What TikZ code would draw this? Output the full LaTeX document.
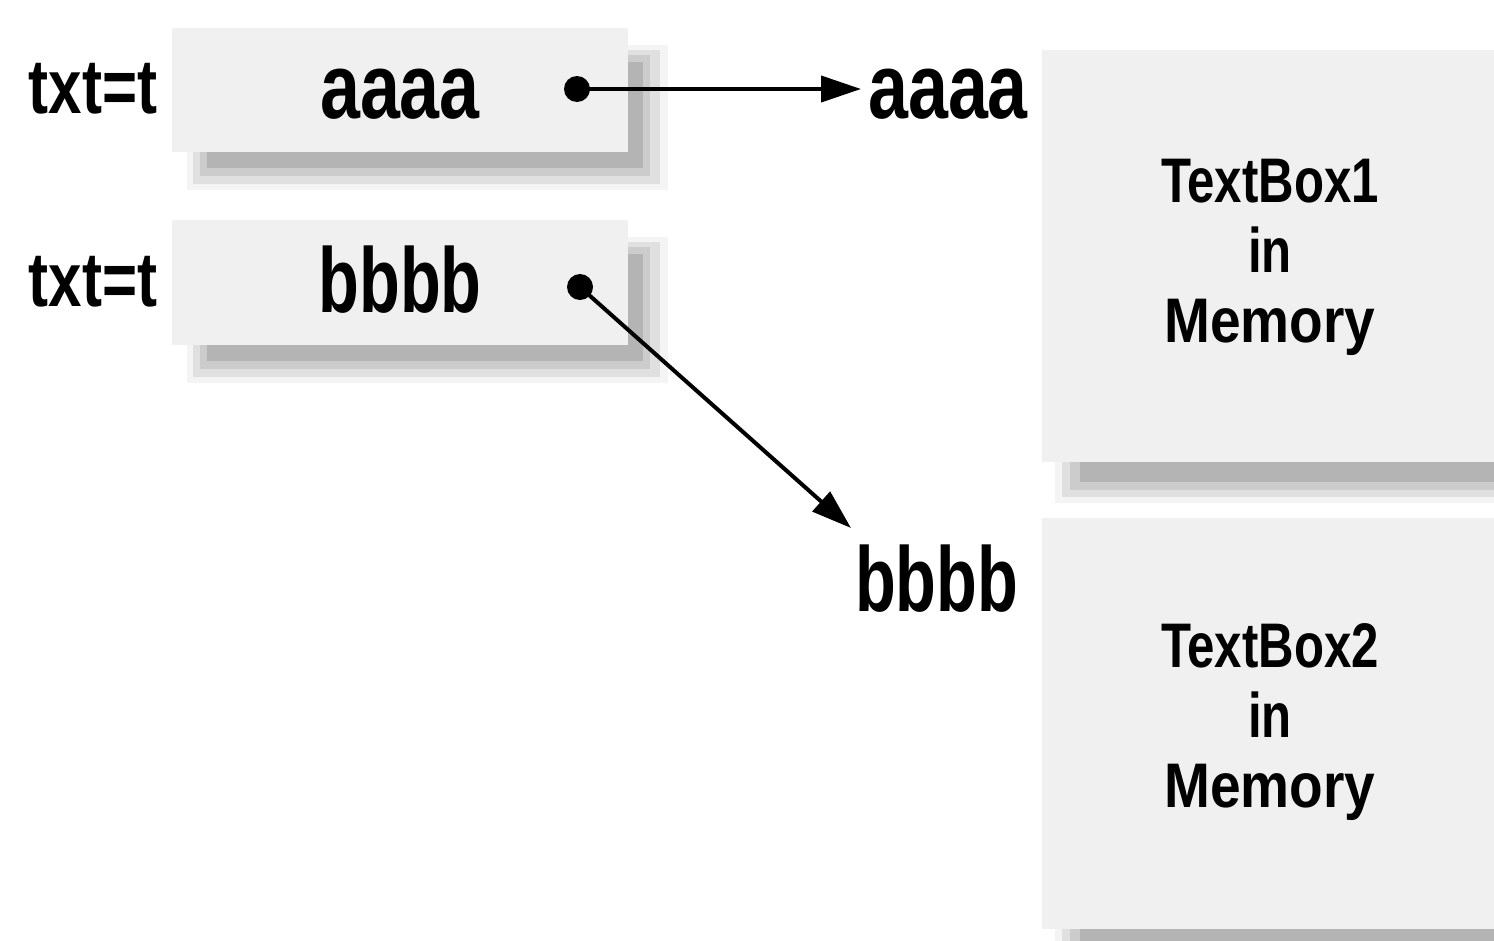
\documentclass[tikz,border=0pt]{standalone}
\usepackage{fontspec}
\usepackage{graphicx}
\setmainfont{Liberation Sans}[FakeStretch=0.78]
\usetikzlibrary{arrows.meta}
\definecolor{boxfill}{HTML}{F0F0F0}
\definecolor{shA}{HTML}{F4F4F4}
\definecolor{shB}{HTML}{E0E0E0}
\definecolor{shC}{HTML}{CCCCCC}
\definecolor{shD}{HTML}{B4B4B4}
\tikzset{
  big/.style={font=\bfseries\fontsize{92}{100}\selectfont, inner sep=0pt},
  lbl/.style={font=\bfseries\fontsize{77}{85}\selectfont, inner sep=0pt},
  memtxt/.style={font=\bfseries\fontsize{63}{70}\selectfont, align=center, inner sep=0pt},
  dot/.style={circle, fill=black, minimum size=26pt, inner sep=0pt},
  conn/.style={line width=4pt, -{Triangle[length=40pt,width=26pt]}},
}
\newcommand{\shadowbox}[5]{% x1 y1 x2 y2 (box), name
  \fill[shA] (#1+15,#2+17) rectangle (#3+40,#4+38);
  \fill[shB] (#1+21,#2+22) rectangle (#3+32,#4+32);
  \fill[shC] (#1+28,#2+27) rectangle (#3+22,#4+24);
  \fill[shD] (#1+35,#2+34) rectangle (#3+15,#4+16);
  \node[fill=boxfill, inner sep=0pt, minimum width=#3-#1, minimum height=#4-#2] (#5) at ({(#1+#3)/2},{(#2+#4)/2}) {};
}
\newcommand{\nb}[1]{\scalebox{0.93}[1]{#1}}
\newcommand{\wm}[1]{\scalebox{1.12}[1]{#1}}
\begin{document}
\begin{tikzpicture}[x=1pt,y=-1pt]
\useasboundingbox (0,0) rectangle (1494,940);
\begin{scope}
\clip (0,0) rectangle (1494,940);
% small boxes
\shadowbox{172}{28}{628}{152}{box1}
\shadowbox{172}{220}{628}{345}{box2}
% big boxes with bottom shadows
\fill[shA] (1055,460) rectangle (1500,503);
\fill[shB] (1062,460) rectangle (1500,497);
\fill[shC] (1070,460) rectangle (1500,490);
\fill[shD] (1080,462) rectangle (1500,482);
\node[fill=boxfill, inner sep=0pt, minimum width=460pt, minimum height=412pt] (mem1) at (1272,256) {};
\fill[shA] (1055,927) rectangle (1500,970);
\fill[shB] (1062,927) rectangle (1500,964);
\fill[shC] (1070,927) rectangle (1500,957);
\fill[shD] (1080,929) rectangle (1500,949);
\node[fill=boxfill, inner sep=0pt, minimum width=460pt, minimum height=411pt] (mem2) at (1272,723.5) {};
\end{scope}
% labels
\node[lbl, anchor=base] (l1) at (93,113) {txt=t};
\node[lbl, anchor=base] (l2) at (93,306) {txt=t};
\node[big, anchor=base] (s1) at (400,118) {aaaa};
\node[big, anchor=base] (s2) at (400,312) {\nb{bbbb}};
\node[big, anchor=base west] (t1) at (868,118) {aaaa};
\node[big, anchor=base west] (t2) at (855,611) {\nb{bbbb}};
\node[memtxt] (m1) at (1270,257) {TextBox1\\in\\\wm{Memory}};
\node[memtxt] (m2) at (1270,722) {TextBox2\\in\\\wm{Memory}};
% dots and arrows
\node[dot] (d1) at (577,89) {};
\node[dot] (d2) at (580,287) {};
\coordinate (tip2) at (851,528);
\draw[conn] (d1.center) -- ([xshift=-7pt]t1.west |- d1.center);
\draw[conn] (d2.center) -- (tip2);
\end{tikzpicture}
\end{document}
